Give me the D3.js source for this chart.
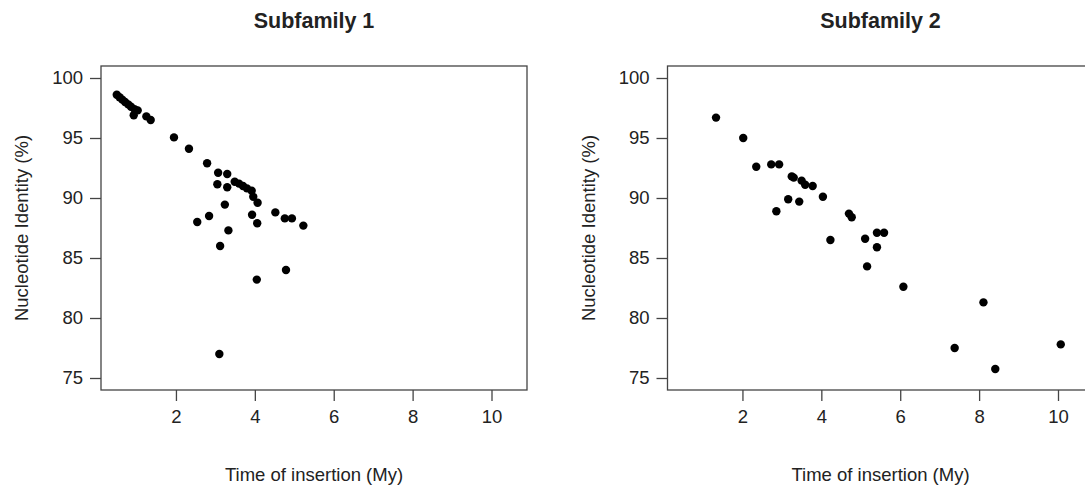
<!DOCTYPE html>
<html>
<head>
<meta charset="utf-8" />
<script src="https://cdn.jsdelivr.net/npm/d3@7"></script>
<style>
	body {
		margin: 0;
		background: #fff;
		overflow: hidden;
	}
	text {
		font-family: "Liberation Sans", Arial, sans-serif;
		fill: #222;
	}
</style>
</head>
<body>
<div id="chart"></div>
<script>
// values
const sub1Time = [
	0.5, 0.57, 0.64, 0.71, 0.79, 0.86, 0.95, 1.03, 0.93, 1.25, 1.36, 1.95, 2.33,
	2.79, 3.07, 3.3, 3.05, 3.3, 3.49, 3.6, 3.7, 3.8, 3.92, 3.96, 4.07, 3.24,
	3.93, 2.84, 2.54, 4.06, 4.52, 4.76, 4.94, 5.23, 3.33, 3.12, 4.79, 4.05, 3.1,
];
const sub1Identity = [
	98.6, 98.4, 98.2, 98.0, 97.8, 97.6, 97.4, 97.3, 96.9, 96.8, 96.5, 95.05,
	94.1, 92.9, 92.1, 92.0, 91.15, 90.9, 91.35, 91.2, 91.0, 90.8, 90.6, 90.1,
	89.6, 89.45, 88.6, 88.5, 88.0, 87.9, 88.8, 88.3, 88.3, 87.7, 87.3, 86.0,
	84.0, 83.2, 77.0,
];
const sub2Time = [
	1.33, 2.02, 2.35, 2.73, 2.93, 3.25, 3.3, 3.5, 3.59, 3.78, 4.04, 3.16, 3.44,
	2.86, 4.7, 4.77, 4.23, 5.11, 5.41, 5.59, 5.41, 5.16, 6.08, 8.11, 7.38, 8.41,
	10.07,
];
const sub2Identity = [
	96.7, 95.0, 92.6, 92.8, 92.8, 91.8, 91.7, 91.45, 91.1, 91.0, 90.1, 89.9,
	89.7, 88.9, 88.7, 88.4, 86.5, 86.6, 87.1, 87.1, 85.9, 84.3, 82.6, 81.3, 77.5,
	75.75, 77.8,
];
const titles = ["Subfamily 1", "Subfamily 2"];
const xTicks = [2, 4, 6, 8, 10];
const yTicks = [75, 80, 85, 90, 95, 100];

const w = 1085;
const h = 486;
const boxTop = 66;
const boxBottom = 390;
const boxW = 426;
const lefts = [101, 667.5];
const tickLen = 11;

const svg = d3
	.select("#chart")
	.append("svg")
	.attr("width", w)
	.attr("height", h);

const yScale = d3.scaleLinear().domain([74, 101]).range([boxBottom, boxTop]);

const panels = [
	{ x: sub1Time, y: sub1Identity },
	{ x: sub2Time, y: sub2Identity },
];

panels.forEach(function (p, i) {
	const left = lefts[i];
	const xScale = d3
		.scaleLinear()
		.domain([0.1, 10.9])
		.range([left, left + boxW]);

	const g = svg.append("g");

	// box
	g.append("rect")
		.attr("x", left)
		.attr("y", boxTop)
		.attr("width", boxW)
		.attr("height", boxBottom - boxTop)
		.attr("fill", "none")
		.attr("stroke", "#444")
		.attr("stroke-width", 1.3);

	const xAxis = d3
		.axisBottom(xScale)
		.tickValues(xTicks)
		.tickSize(tickLen)
		.tickPadding(9)
		.tickFormat(d3.format("d"));
	const yAxis = d3
		.axisLeft(yScale)
		.tickValues(yTicks)
		.tickSize(tickLen)
		.tickPadding(7)
		.tickFormat(d3.format("d"));

	const gx = g
		.append("g")
		.attr("transform", "translate(0," + boxBottom + ")")
		.call(xAxis);
	const gy = g
		.append("g")
		.attr("transform", "translate(" + left + ",0)")
		.call(yAxis);

	[gx, gy].forEach(function (a) {
		a.select(".domain").remove();
		a.selectAll("line").attr("stroke", "#444").attr("stroke-width", 1.3);
		a.selectAll("text")
			.attr("fill", "#222")
			.style("font-family", '"Liberation Sans", Arial, sans-serif')
			.style("font-size", "18.5px");
	});

	g.selectAll("circle")
		.data(p.x.map((d, k) => [d, p.y[k]]))
		.enter()
		.append("circle")
		.attr("cx", (d) => xScale(d[0]))
		.attr("cy", (d) => yScale(d[1]))
		.attr("r", 4.2)
		.attr("fill", "#000");

	g.append("text")
		.attr("x", left + boxW / 2)
		.attr("y", 28)
		.attr("text-anchor", "middle")
		.style("font-size", "21.5px")
		.style("font-weight", "bold")
		.text(titles[i]);

	g.append("text")
		.attr("x", left + boxW / 2)
		.attr("y", 481)
		.attr("text-anchor", "middle")
		.style("font-size", "18.5px")
		.text("Time of insertion (My)");

	g.append("text")
		.attr("transform", "translate(" + (left - 73) + "," + (boxTop + boxBottom) / 2 + ") rotate(-90)")
		.attr("text-anchor", "middle")
		.style("font-size", "18.5px")
		.text("Nucleotide Identity (%)");
});
</script>
</body>
</html>
